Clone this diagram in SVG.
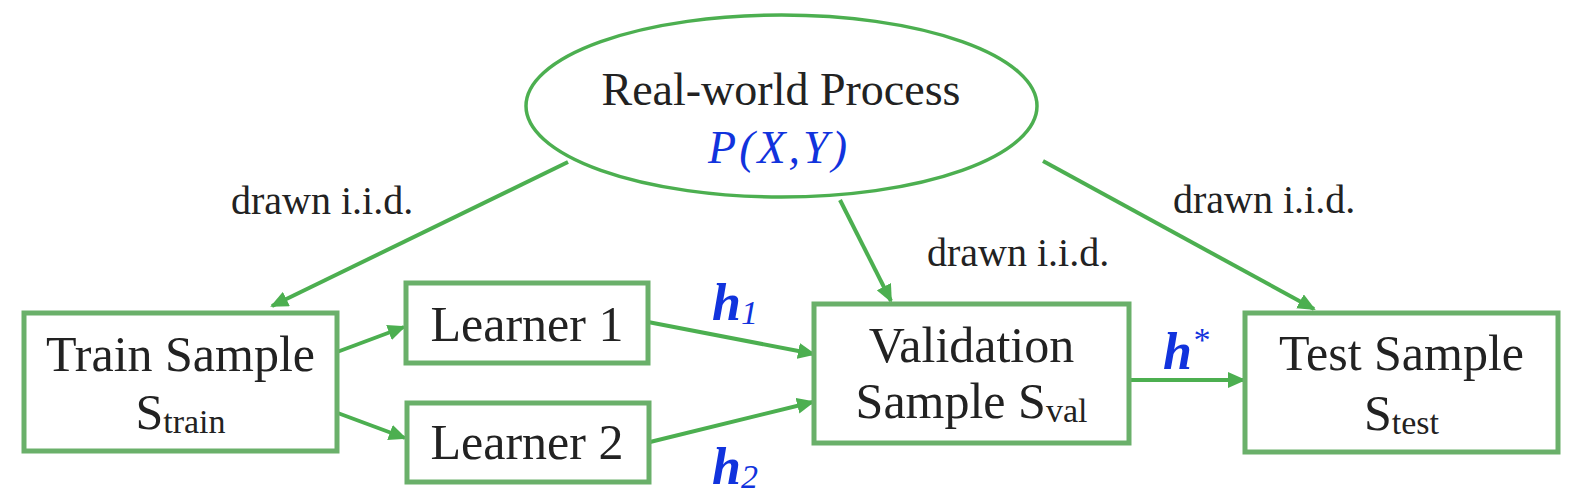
<svg xmlns="http://www.w3.org/2000/svg" width="1578" height="494" viewBox="0 0 1578 494">
<style>
.box{fill:#fff;stroke:#6AB06A;stroke-width:5}
.ell{fill:#fff;stroke:#4CAF50;stroke-width:3.5}
.edge{stroke:#4CAF50;stroke-width:4;fill:none}
.t{font-family:"Liberation Serif",serif;fill:#222;text-anchor:middle}
.big{font-size:50px}
.sub{font-size:34px}
.lbl{font-family:"Liberation Serif",serif;fill:#222;font-size:40px}
.m{font-family:"Liberation Serif",serif;fill:#1133DD;font-style:italic}
</style>
<defs>
<marker id="ah" markerUnits="userSpaceOnUse" markerWidth="18" markerHeight="16" refX="16" refY="8" orient="auto">
<path d="M0,0 L18,8 L0,16 z" fill="#4CAF50"/>
</marker>
</defs>
<g id="connectors">
<line class="edge" x1="568" y1="162" x2="272" y2="306" marker-end="url(#ah)"/>
<line class="edge" x1="840" y1="200" x2="891" y2="301" marker-end="url(#ah)"/>
<line class="edge" x1="1043" y1="161" x2="1314" y2="309" marker-end="url(#ah)"/>
<line class="edge" x1="337" y1="352" x2="404" y2="327" marker-end="url(#ah)"/>
<line class="edge" x1="335" y1="412" x2="405" y2="438" marker-end="url(#ah)"/>
<line class="edge" x1="648" y1="322" x2="814" y2="354" marker-end="url(#ah)"/>
<line class="edge" x1="650" y1="442" x2="813" y2="402" marker-end="url(#ah)"/>
<line class="edge" x1="1129" y1="380" x2="1244" y2="380" marker-end="url(#ah)"/>
<text class="lbl" x="231" y="214">drawn i.i.d.</text>
<text class="lbl" x="927" y="266">drawn i.i.d.</text>
<text class="lbl" x="1173" y="213">drawn i.i.d.</text>
<text class="m" x="712" y="320" font-size="52" font-weight="bold">h<tspan font-size="34" font-weight="normal" dy="4">1</tspan></text>
<text class="m" x="712" y="484" font-size="52" font-weight="bold">h<tspan font-size="34" font-weight="normal" dy="4">2</tspan></text>
<text class="m" x="1163" y="369" font-size="52" font-weight="bold">h<tspan font-size="34" font-weight="normal" dy="-18">*</tspan></text>
</g>
<g id="real-world">
<ellipse class="ell" cx="781.5" cy="106" rx="255.5" ry="91"/>
<text class="t" x="781" y="105" font-size="46">Real-world Process</text>
<text class="m" x="779" y="163" font-size="46" text-anchor="middle" letter-spacing="3">P(X,Y)</text>
</g>
<g id="train">
<rect class="box" x="24" y="313" width="313" height="138"/>
<text class="t big" x="180.5" y="371">Train Sample</text>
<text class="t big" x="180.5" y="429">S<tspan class="sub" dy="4">train</tspan></text>
</g>
<g id="learner1">
<rect class="box" x="406" y="283" width="242" height="80"/>
<text class="t big" x="527" y="341">Learner 1</text>
</g>
<g id="learner2">
<rect class="box" x="407" y="403" width="242" height="79"/>
<text class="t big" x="527" y="459">Learner 2</text>
</g>
<g id="validation">
<rect class="box" x="814" y="304" width="315" height="139"/>
<text class="t big" x="971.5" y="362">Validation</text>
<text class="t big" x="971.5" y="418">Sample S<tspan class="sub" dy="4">val</tspan></text>
</g>
<g id="test">
<rect class="box" x="1245" y="313" width="313" height="139"/>
<text class="t big" x="1401.5" y="370">Test Sample</text>
<text class="t big" x="1401.5" y="430">S<tspan class="sub" dy="4">test</tspan></text>
</g>
</svg>
